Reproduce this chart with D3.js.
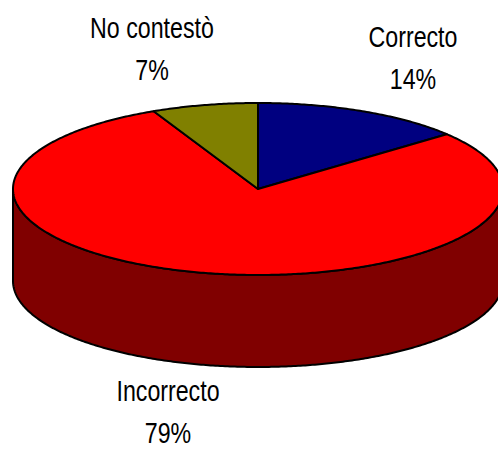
<!DOCTYPE html>
<html>
<head>
<meta charset="utf-8">
<script src="https://cdn.jsdelivr.net/npm/d3@7"></script>
<style>
  html, body { margin: 0; padding: 0; background: #fff; }
  svg { display: block; }
</style>
</head>
<body>
<div id="chart"></div>
<script>
// data
const categories = ["Correcto", "Incorrecto", "No contestò"];
const values = [14, 79, 7];
const pctLabels = ["14%", "79%", "7%"];
const topColors = ["#000080", "#FF0000", "#808000"];
const sideColors = ["#000040", "#800000", "#404000"];

const width = 498;
const height = 449;

// ellipse geometry of the 3d pie
const cx = 258, cy = 189, rx = 245, ry = 86, depth = 92;

// label anchors (center x, first baseline)
const labelPos = [[413, 47], [168, 401], [152, 38]];
const lineGap = 42;

const svg = d3.select("#chart")
  .append("svg")
  .attr("width", width)
  .attr("height", height);

const pie = d3.pie().sort(null).value(d => d)
  .startAngle(0).endAngle(2 * Math.PI);
const arcs = pie(values);

const px = a => cx + rx * Math.sin(a);
const py = a => cy - ry * Math.cos(a);

function arcPoints(a0, a1, dy = 0) {
  const n = Math.max(2, Math.ceil((a1 - a0) / 0.01));
  return d3.range(n + 1).map(i => {
    const a = a0 + (a1 - a0) * i / n;
    return [px(a), py(a) + dy];
  });
}

const line = d3.line();

// side walls (front half: angle between PI/2 and 3PI/2)
const sides = svg.append("g");
arcs.forEach((d, i) => {
  const a0 = Math.max(d.startAngle, Math.PI / 2);
  const a1 = Math.min(d.endAngle, 3 * Math.PI / 2);
  if (a1 <= a0) return;
  const top = arcPoints(a0, a1);
  const bottom = arcPoints(a0, a1, depth).reverse();
  sides.append("path")
    .attr("d", line(top.concat(bottom)) + "Z")
    .attr("fill", sideColors[i])
    .attr("stroke", "#000")
    .attr("stroke-width", 2)
    .attr("stroke-linejoin", "round");
});

// top faces
svg.append("g")
  .selectAll("path")
  .data(arcs)
  .join("path")
  .attr("d", d => line([[cx, cy]].concat(arcPoints(d.startAngle, d.endAngle))) + "Z")
  .attr("fill", (d, i) => topColors[i])
  .attr("stroke", "#000")
  .attr("stroke-width", 2)
  .attr("stroke-linejoin", "round");

// labels (narrow look: squeeze Liberation Sans horizontally)
const labels = svg.append("g")
  .attr("font-family", "'Liberation Sans', Arial, sans-serif")
  .attr("font-size", "29px")
  .attr("fill", "#000")
  .attr("text-anchor", "middle");

categories.forEach((c, i) => {
  const [x, y] = labelPos[i];
  [c, pctLabels[i]].forEach((t, k) => {
    labels.append("text")
      .attr("transform", `translate(${x},${y + k * lineGap}) scale(0.8,1)`)
      .text(t);
  });
});
</script>
</body>
</html>
